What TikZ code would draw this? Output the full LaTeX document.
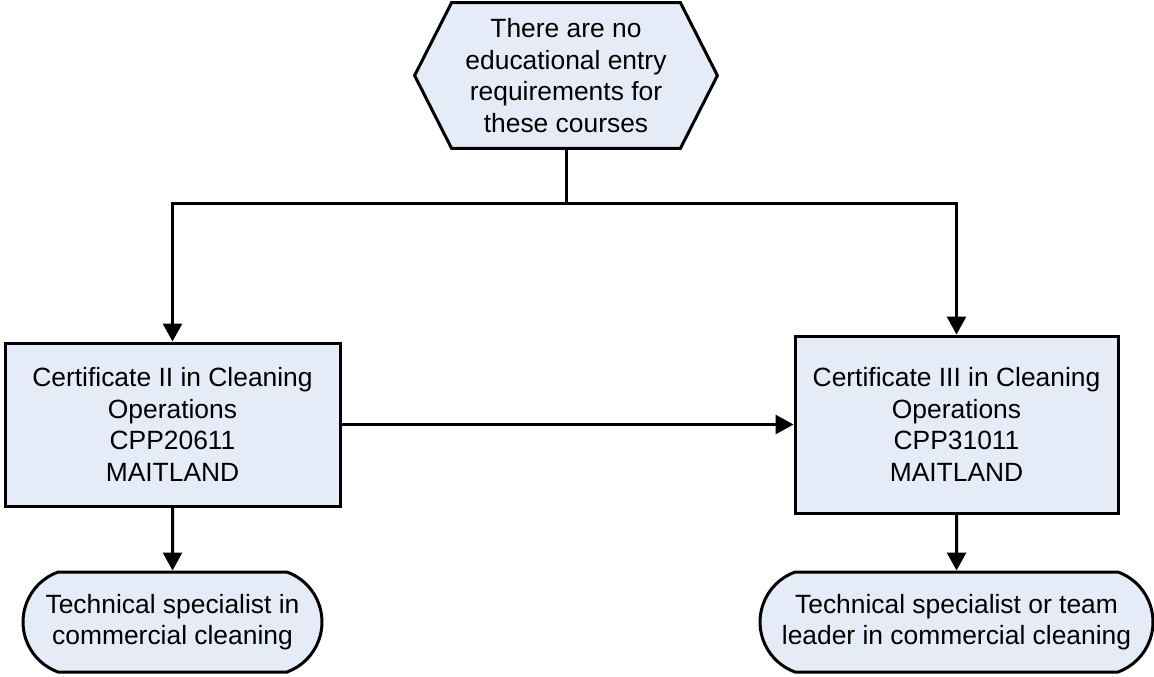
\documentclass[tikz,border=0pt]{standalone}
\usepackage{fontspec}
\setmainfont{Liberation Sans}
\usetikzlibrary{shapes.misc,arrows.meta,backgrounds}
\definecolor{boxfill}{RGB}{230,236,247}

\begin{document}
\begin{tikzpicture}[x=0.5pt,y=-0.5pt,
    shape box/.style={draw, line width=1.5pt, fill=boxfill, align=center, inner sep=0pt,
      font=\fontsize{13.2}{15.8}\selectfont},
    entrybox/.style={align=center, inner sep=0pt, font=\fontsize{13.2}{15.8}\selectfont},
    coursebox/.style={shape box, rectangle},
    jobbox/.style={shape box, rounded rectangle, rounded rectangle arc length=140},
    link/.style={line width=1.5pt, -{Triangle[length=9pt,width=9.5pt]}}]
    \useasboundingbox (0,0) rectangle (1154,676);
    \def \cut {18.5pt} % hexagon point depth
    % entry
    \node[entrybox, minimum width=151pt, minimum height=72.5pt] (entry) at (566,75.5)
      {There are no\\educational entry\\requirements for\\these courses};
    \begin{scope}[on background layer]
      \draw[line width=1.5pt, fill=boxfill] (entry.west) -- ([xshift=\cut]entry.north west)
        -- ([xshift=-\cut]entry.north east) -- (entry.east)
        -- ([xshift=-\cut]entry.south east) -- ([xshift=\cut]entry.south west) -- cycle;
    \end{scope}
    \coordinate (split) at (566,203);
    % courses
    \node[coursebox, minimum width=167.5pt, minimum height=81.5pt] (cert2) at (172.5,424.5)
      {Certificate II in Cleaning\\Operations\\CPP20611\\MAITLAND};
    \node[coursebox, minimum width=161.5pt, minimum height=88.5pt] (cert3) at (956.5,424.5)
      {Certificate III in Cleaning\\Operations\\CPP31011\\MAITLAND};
    % outcomes
    \node[jobbox, minimum width=149.5pt, minimum height=50pt] (job2) at (172.5,622)
      {Technical specialist in\\commercial cleaning};
    \node[jobbox, minimum width=196.5pt, minimum height=50pt] (job3) at (956.5,622)
      {Technical specialist or team\\leader in commercial cleaning};
    \draw[line width=1.5pt] (entry.south) -- (split);
    \draw[link] (split) -| (cert2.north);
    \draw[link] (split) -| (cert3.north);
    \draw[link] (cert2) -- (cert3);
    \draw[link] (cert2) -- (job2);
    \draw[link] (cert3) -- (job3);
\end{tikzpicture}
\end{document}
